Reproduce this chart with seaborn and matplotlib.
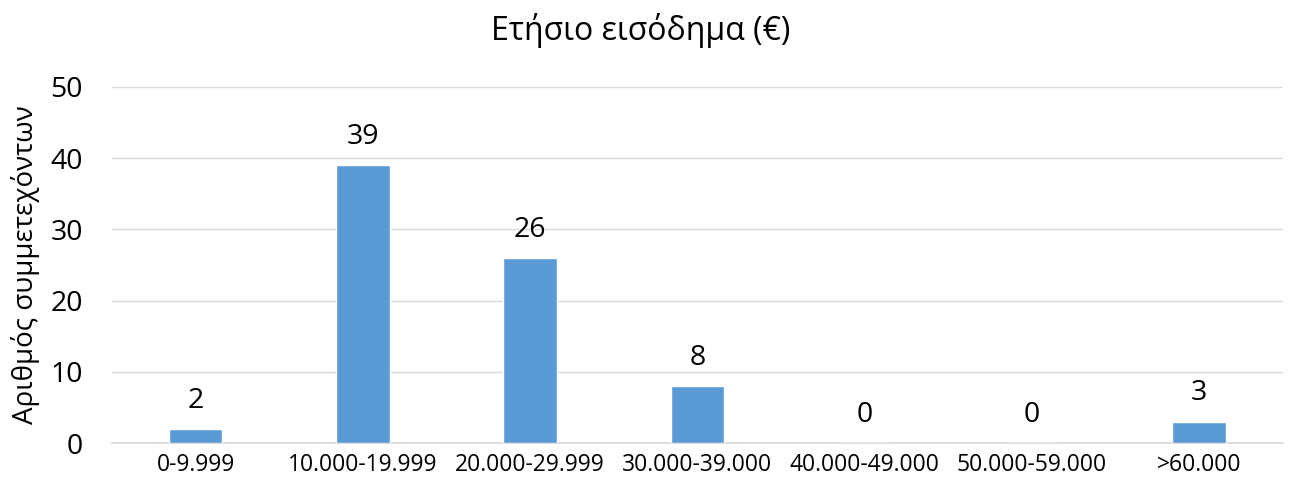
import matplotlib
matplotlib.use('Agg')
import matplotlib.pyplot as plt
import seaborn as sns
import pandas as pd

# Data
categories = ['0-9.999', '10.000-19.999', '20.000-29.999', '30.000-39.000',
              '40.000-49.000', '50.000-59.000', '>60.000']
counts = [2, 39, 26, 8, 0, 0, 3]

df = pd.DataFrame({'category': categories, 'count': counts})

sns.set_theme(style='white')
plt.rcParams['font.family'] = ['Open Sans', 'DejaVu Sans']

fig, ax = plt.subplots(figsize=(12.89, 4.88), dpi=100)
fig.subplots_adjust(left=0.087, right=0.995, top=0.822, bottom=0.092)

sns.barplot(data=df, x='category', y='count', color='#5B9BD5',
            width=0.32, saturation=1, ax=ax, zorder=3)

ax.set_ylim(0, 50)
ax.set_yticks(range(0, 51, 10))
ax.yaxis.grid(True, color='#D9D9D9', linewidth=1, zorder=0)
ax.set_axisbelow(True)
for side in ['top', 'right', 'left']:
    ax.spines[side].set_visible(False)
ax.spines['bottom'].set_color('#D9D9D9')
ax.tick_params(axis='x', labelsize=16.5, colors='black', length=0, pad=7)
ax.tick_params(axis='y', labelsize=20.5, colors='black', length=0, pad=21)

ax.set_xlabel('')
ax.set_ylabel('Αριθμός συμμετεχόντων', fontsize=20, color='black')
ax.yaxis.set_label_coords(-0.062, 0.5)
fig.suptitle('Ετήσιο εισόδημα (€)', fontsize=23, color='black',
             x=0.497, y=0.938, va='center')

# Value labels above the bars
for i, v in enumerate(counts):
    ax.text(i, v + 2, str(v), ha='center', va='bottom', fontsize=20.5, color='black')

fig.savefig('out.png', dpi=100)
